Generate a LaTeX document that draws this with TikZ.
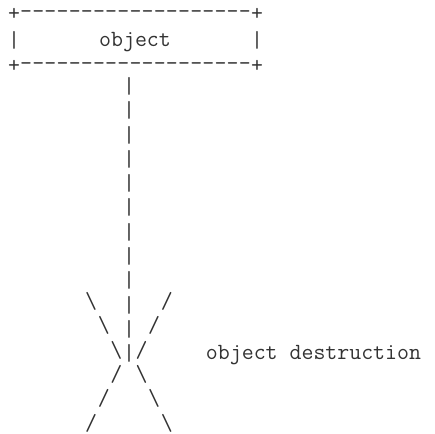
\documentclass[tikz,border=0pt]{standalone}
\usepackage{fontspec}
\begin{document}
\begin{tikzpicture}
	[x=0.75pt,y=-0.75pt,every node/.style={inner sep=0pt,text=black!80,font=\ttfamily\fontsize{17.4}{20}\selectfont}]
	\useasboundingbox (0,0) rectangle (435,434);
	% box with the object name
	\node (tl) at (14,14.6) {+};
	\node (tr) at (257,14.6) {+};
	\node (bl) at (14,66.7) {+};
	\node (br) at (257,66.7) {+};
	\foreach \c in {1,...,19}
	{\node (top\c) at (14+12.15*\c,14.6) {-};
	\node (bot\c) at (14+12.15*\c,66.7) {-};}
	\node[anchor=base] (lbar) at (14,48) {|};
	\node[anchor=base] (obj) at (135,47) {object};
	\node[anchor=base] (rbar) at (257,48) {|};
	
	% lifeline, rows 0..11
	\foreach \r in {0,...,11}
	\node[anchor=base] (life\r) at (129,93.5+24.3*\r) {|};
	
	% the cross at the end of the lifeline
	\foreach \d/\r in {3/9,2/10,1/11}
	{\node[anchor=base] (nw\d) at (129-12.6*\d,90+24.3*\r) {\textbackslash};
	\node[anchor=base] (ne\d) at (129+12.6*\d,90+24.3*\r) {/};}
	\foreach \d/\r in {1/12,2/13,3/14}
	{\node[anchor=base] (sw\d) at (129-12.6*\d,90+24.3*\r) {/};
	\node[anchor=base] (se\d) at (129+12.6*\d,90+24.3*\r) {\textbackslash};}
	
	\node[anchor=base] (destr) at (313.5,359) {object destruction};
\end{tikzpicture}
\end{document}
